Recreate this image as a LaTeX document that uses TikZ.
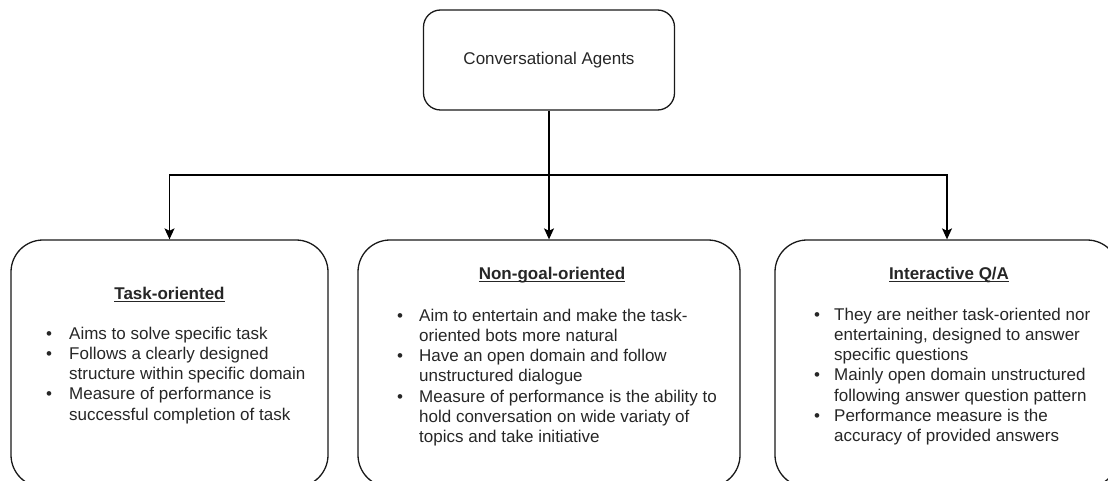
\documentclass[tikz,border=0pt]{standalone}
\usepackage{fontspec}
\setmainfont{Liberation Sans}
\usetikzlibrary{arrows.meta}
\newcommand{\ulined}[1]{\setbox0\hbox{#1}\rlap{\copy0}\rule[-2.8pt]{\wd0}{1.1pt}}
\newcommand{\bul}{\hspace{-3pt}\textbullet}
\begin{document}
\begin{tikzpicture}[x=1pt,y=-1pt,
  txt/.style={text=black!85, font=\fontsize{17}{20.3}\selectfont, inner sep=0pt},
  box/.style={draw=black!90, line width=1.3pt, inner sep=0pt},
  conn/.style={draw=black, line width=1.3pt},
  arr/.style={conn, -{Stealth[length=11pt,width=10pt,inset=2.5pt]}}]
\useasboundingbox (0,0) rectangle (1108,481);
\clip (0,0) rectangle (1108,481);
% boxes
\node[box, rounded corners=17pt, minimum width=251pt, minimum height=100pt] (top) at (549,60) {};
\node[txt] (toptxt) at (549,60) {Conversational Agents};
\node[box, rounded corners=32pt, minimum width=317pt, minimum height=247pt] (tl) at (169.5,363.5) {};
\node[box, rounded corners=32pt, minimum width=382pt, minimum height=247pt] (mid) at (549,363.5) {};
\node[box, rounded corners=32pt, minimum width=344pt, minimum height=247pt] (tr) at (947,363.5) {};
% connectors
\coordinate (hub) at (549,175);
\draw[conn] (top.south) -- (hub);
\draw[arr] (hub) -| (tl.north);
\draw[arr] (hub) -- (mid.north);
\draw[arr] (hub) -| (tr.north);
% titles
\node[txt, anchor=base] (tltitle) at (169.5,299) {\ulined{\bfseries Task-oriented}};
\node[txt, anchor=base] (midtitle) at (552,279) {\ulined{\bfseries Non-goal-oriented}};
\node[txt, anchor=base] (trtitle) at (949,279) {\ulined{\bfseries Interactive Q/A}};
% bullet lists
\node[txt, anchor=base west] (tllist) at (49,339) {\begin{tabular}[t]{@{}p{20pt}@{}l@{}}
\bul & Aims to solve specific task\\
\bul & Follows a clearly designed\\
 & structure within specific domain\\
\bul & Measure of performance is\\
 & successful completion of task
\end{tabular}};
\node[txt, anchor=base west] (midlist) at (400,321) {\begin{tabular}[t]{@{}p{19pt}@{}l@{}}
\bul & Aim to entertain and make the task-\\
 & oriented bots more natural\\
\bul & Have an open domain and follow\\
 & unstructured dialogue\\
\bul & Measure of performance is the ability to\\
 & hold conversation on wide variaty of\\
 & topics and take initiative
\end{tabular}};
\node[txt, anchor=base west] (trlist) at (817,320) {\begin{tabular}[t]{@{}p{17pt}@{}l@{}}
\bul & They are neither task-oriented nor\\
 & entertaining, designed to answer\\
 & specific questions\\
\bul & Mainly open domain unstructured\\
 & following answer question pattern\\
\bul & Performance measure is the\\
 & accuracy of provided answers
\end{tabular}};
\end{tikzpicture}
\end{document}
